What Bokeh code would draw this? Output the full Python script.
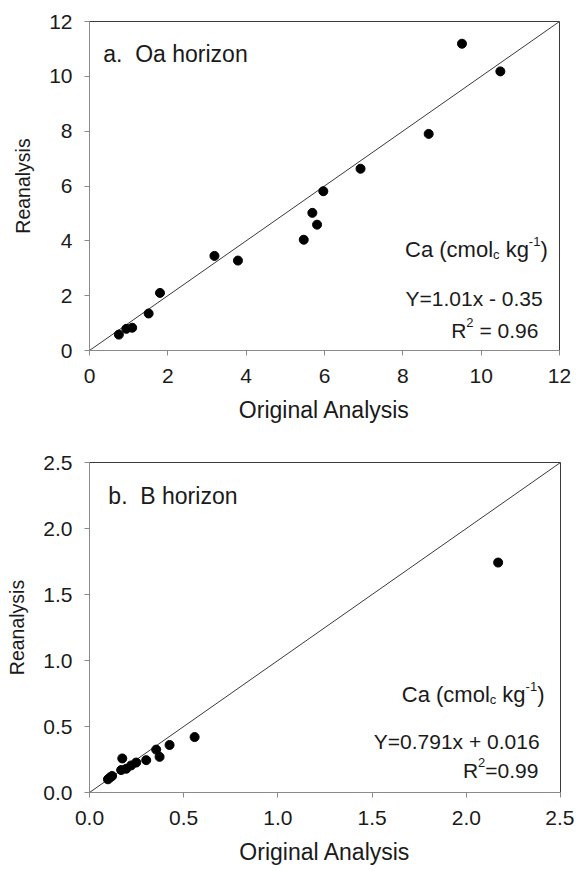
from bokeh.plotting import figure
from bokeh.layouts import column
from bokeh.models import Label, Range1d, NumeralTickFormatter, FixedTicker
from bokeh.embed import file_html
from bokeh.resources import INLINE

# ---------------- data ----------------
oa_original = [0.75, 0.94, 1.09, 1.51, 1.80, 3.19, 3.79, 5.47, 5.69, 5.81, 5.97, 6.92, 8.66, 9.51, 10.49]
oa_reanalysis = [0.58, 0.79, 0.83, 1.35, 2.10, 3.45, 3.28, 4.04, 5.02, 4.59, 5.81, 6.63, 7.90, 11.19, 10.18]
b_original = [0.098, 0.110, 0.120, 0.168, 0.174, 0.195, 0.221, 0.248, 0.301, 0.354, 0.372, 0.425, 0.558, 2.169]
b_reanalysis = [0.100, 0.115, 0.125, 0.170, 0.258, 0.180, 0.205, 0.227, 0.245, 0.325, 0.270, 0.360, 0.420, 1.742]
oa_ticks = [0, 2, 4, 6, 8, 10, 12]
b_ticks = [0.0, 0.5, 1.0, 1.5, 2.0, 2.5]
oa_limit = 12
b_limit = 2.5

FONT = "Liberation Sans"
TXT = "#1a1a1a"

W = {' ': 278, '(': 333, ')': 333, '-': 333, '.': 278, '=': 584, '+': 584,
     'C': 722, 'R': 722, 'Y': 667, 'B': 667, 'O': 778,
     'a': 556, 'b': 556, 'c': 500, 'g': 556, 'h': 556, 'i': 222, 'k': 500,
     'l': 222, 'm': 833, 'n': 556, 'o': 556, 'r': 333, 'x': 500, 'z': 500}


def tw(s, size):
    return sum(W.get(ch, 556) for ch in s) * size / 1000.0


def rich_label(p, right_x, y, parts, ppu_x, ppu_y):
    total = sum(tw(t, s) for t, s, dy in parts)
    x = right_x - total / ppu_x
    for t, s, dy in parts:
        lead = len(t) - len(t.lstrip(' '))
        xs = x + tw(' ' * lead, s) / ppu_x
        p.add_layout(Label(x=xs, y=y + dy / ppu_y, text=t.strip(' '),
                           text_font_size=f"{s}px", text_font=FONT,
                           text_color=TXT, text_baseline="alphabetic",
                           text_align="left"))
        x += tw(t, s) / ppu_x


def make_fig(limit, ticks, fw, fh, left, right, top, bottom, fmt=None):
    p = figure(frame_width=fw, frame_height=fh, output_backend="svg",
               toolbar_location=None, x_range=Range1d(0, limit),
               y_range=Range1d(0, limit),
               min_border_left=left, min_border_right=right,
               min_border_top=top, min_border_bottom=bottom)
    p.xgrid.visible = False
    p.ygrid.visible = False
    p.outline_line_color = "#3a3a3a"
    p.outline_line_width = 1
    for ax in (p.xaxis[0], p.yaxis[0]):
        ax.ticker = FixedTicker(ticks=ticks)
        ax.minor_tick_line_color = None
        ax.major_tick_out = 5
        ax.major_tick_in = 0
        ax.axis_line_color = "#8a8a8a"
        ax.major_tick_line_color = "#8a8a8a"
        ax.major_label_text_font = FONT
        ax.major_label_text_font_size = "21px"
        ax.major_label_text_color = TXT
        ax.axis_label_text_font = FONT
        ax.axis_label_text_font_style = "normal"
        ax.axis_label_text_color = TXT
        if fmt:
            ax.formatter = NumeralTickFormatter(format=fmt)
    p.xaxis.major_label_standoff = 13
    p.yaxis.major_label_standoff = 12
    p.xaxis.axis_label = "Original Analysis"
    p.yaxis.axis_label = "Reanalysis"
    p.xaxis.axis_label_text_font_size = "23px"
    p.yaxis.axis_label_text_font_size = "19.5px"
    p.xaxis.axis_label_standoff = 11
    p.yaxis.axis_label_standoff = 12
    return p


# ---------------- panel a ----------------
p1 = make_fig(oa_limit, oa_ticks, 470, 329, 85, 16, 21, 82)
p1.line([0, oa_limit], [0, oa_limit], line_color="#3a3a3a", line_width=1)
p1.scatter(oa_original, oa_reanalysis, size=9, color="black")
ax1 = 470 / oa_limit
ay1 = 329 / oa_limit
p1.add_layout(Label(x=0.35, y=10.83, text="a.", text_font=FONT, text_font_size="23px",
                    text_color=TXT, text_baseline="alphabetic"))
p1.add_layout(Label(x=0.35 + tw("a.  ", 23) / ax1, y=10.83, text="Oa horizon", text_font=FONT,
                    text_font_size="23px", text_color=TXT, text_baseline="alphabetic"))
rich_label(p1, 11.70, 3.68, [("Ca (cmol", 22, 0), ("c", 13, -5), (" kg", 22, 0),
                             ("-1", 13, 8), (")", 22, 0)], ax1, ay1)
rich_label(p1, 11.57, 1.90, [("Y=1.01x - 0.35", 21, 0)], ax1, ay1)
rich_label(p1, 11.46, 0.73, [("R", 21, 0), ("2", 13, 8), (" = 0.96", 21, 0)], ax1, ay1)

# ---------------- panel b ----------------
p2 = make_fig(b_limit, b_ticks, 471, 330, 89, 14, 30, 70, fmt="0.0")
p2.line([0, b_limit], [0, b_limit], line_color="#3a3a3a", line_width=1)
p2.scatter(b_original, b_reanalysis, size=9, color="black")
ax2 = 471 / b_limit
ay2 = 330 / b_limit
p2.add_layout(Label(x=0.10, y=2.25, text="b.", text_font=FONT, text_font_size="23px",
                    text_color=TXT, text_baseline="alphabetic"))
p2.add_layout(Label(x=0.10 + tw("b.  ", 23) / ax2, y=2.25, text="B horizon", text_font=FONT,
                    text_font_size="23px", text_color=TXT, text_baseline="alphabetic"))
rich_label(p2, 2.415, 0.742, [("Ca (cmol", 22, 0), ("c", 13, -5), (" kg", 22, 0),
                              ("-1", 13, 8), (")", 22, 0)], ax2, ay2)
rich_label(p2, 2.389, 0.386, [("Y=0.791x + 0.016", 21, 0)], ax2, ay2)
rich_label(p2, 2.383, 0.167, [("R", 21, 0), ("2", 13, 8), ("=0.99", 21, 0)], ax2, ay2)

layout = column(p1, p2, spacing=0)
open("out.html", "w").write(file_html(layout, INLINE))
